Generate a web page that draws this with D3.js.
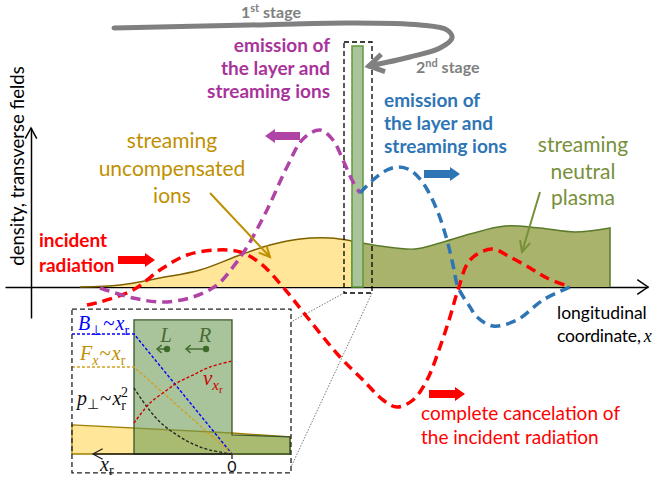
<!DOCTYPE html>
<html><head><meta charset="utf-8">
<script src="https://cdn.jsdelivr.net/npm/d3@7"></script>
<style>body{margin:0;background:#fff}svg{display:block;font-family:Lato,'Open Sans',sans-serif}</style>
</head><body><svg id="c" width="655" height="482"></svg>
<script>
// ---------- data (chart units: x along the axis, y above baseline) ----------
const ionsDensity   = [[49,0],[89,2],[129,9],[169,17],[209,32],[239,42],[269,48],[299,49],[321,46]];
const plasmaDensity = [[321,46],[349,41],[384,38],[409,44],[439,53],[474,61],[509,59],[544,55],[579,59]];
const layerBarX = [321, 332];
const layerBarH = [241];
const layerBoxX = [313, 341];
const layerBoxY = [-6, 245];
const incidentField = [[56,-18],[69,-15],[102,-3],[129,17],[156,32],[186,37],[209,35],[229,24],[252,0],[276,-30],[309,-70],[332,-93],[352,-113],[366,-120],[382,-113],[396,-93],[409,-60],[419,-30],[427,-3],[439,27],[461,38],[479,30],[499,19],[516,9],[539,0]];
const backEmission  = [[69,-1],[102,-11],[132,-15],[162,-10],[186,2],[202,20],[216,40],[236,77],[256,120],[272,148],[289,157],[302,147],[312,127],[321,107],[329,94]];
const fwdEmission   = [[329,94],[342,107],[356,117],[367,120],[379,117],[392,104],[406,77],[416,47],[422,22],[427,0],[439,-20],[446,-30],[462,-39],[486,-33],[512,-13],[539,0]];
const stagePath     = [[83,259],[219,262],[319,264],[389,262],[416,257],[421,249],[409,239],[379,230],[338,221]];
// block arrows: [x from, x to, y, colour]
const blockArrows = [[269,234,151,"#b043a6"],[393,429,113,"#2e75b6"],[87,124,27,"#ff0000"],[398,434,-107,"#ff0000"]];
const lineArrows  = [[179,94,239,30,"#bf9000"],[509,95,491,35,"#77903a"]];
// inset (x_r, value)
const insetIons   = [[1.633,0.242],[0,0.175],[-0.592,0.142]];
const insetLayer  = [[1,0],[1,1.117],[0,1.117],[0,0.16],[-0.592,0.142],[-0.592,0]];
const insetB = [[1.633,1],[1,1],[0,0]];
const insetF = [[1.633,0.725],[1,0.725],[0,0]];
const insetP = [[1,0.55],[0.867,0.392],[0.735,0.267],[0.561,0.158],[0.398,0.083],[0.224,0.033],[0,0]];
const insetV = [[1,0.258],[0.837,0.425],[0.663,0.533],[0.561,0.592],[0.398,0.658],[0.224,0.725],[0,0.775]];
const insetBox = [1.633,-0.602,1.208,-0.158];

// ---------- scales ----------
const svg = d3.select("#c");
const X = d3.scaleLinear().domain([0,620]).range([31,651]);
const Y = d3.scaleLinear().domain([0,250]).range([287,37]);
const IX = d3.scaleLinear().domain([0,1]).range([232,134]);
const IY = d3.scaleLinear().domain([0,1]).range([454,334]);

const line = d3.line().x(d=>X(d[0])).y(d=>Y(d[1])).curve(d3.curveCatmullRom.alpha(0.5));
const area = d3.area().x(d=>X(d[0])).y0(Y(0)).y1(d=>Y(d[1])).curve(d3.curveCatmullRom.alpha(0.5));
const iline = d3.line().x(d=>IX(d[0])).y(d=>IY(d[1]));
const icurve = d3.line().x(d=>IX(d[0])).y(d=>IY(d[1])).curve(d3.curveCatmullRom.alpha(0.5));

// ---------- axes ----------
const xa = d3.scaleLinear().domain([-26,617]).range([5,648]);
svg.append("g").attr("transform",`translate(0,${Y(0)})`)
  .call(d3.axisBottom(xa).tickValues([]).tickSizeOuter(0))
  .call(g=>g.select(".domain").attr("stroke","#000").attr("stroke-width",1.5));
const ya = d3.scaleLinear().domain([-31,159]).range([318,128]);
svg.append("g").attr("transform",`translate(${X(0)},0)`)
  .call(d3.axisLeft(ya).tickValues([]).tickSizeOuter(0))
  .call(g=>g.select(".domain").attr("stroke","#000").attr("stroke-width",1.5));
function chevron(tx,ty,ang,len,spread,color,w,parent){
  const p=[[tx+len*Math.cos(ang+spread),ty+len*Math.sin(ang+spread)],[tx,ty],[tx+len*Math.cos(ang-spread),ty+len*Math.sin(ang-spread)]];
  (parent||svg).append("path").attr("d",d3.line()(p)).attr("fill","none").attr("stroke",color).attr("stroke-width",w).attr("stroke-linejoin","miter");
}
chevron(xa(617),Y(0),Math.PI,13,0.6,"#000",1.5);
chevron(X(0),ya(159),Math.PI/2,12,0.5,"#000",1.5);

// ---------- densities ----------
svg.append("path").datum(ionsDensity).attr("d",area).attr("fill","#ffe699");
svg.append("path").datum(ionsDensity).attr("d",line).attr("fill","none").attr("stroke","#7f6000").attr("stroke-width",1.5);
svg.append("path").datum(plasmaDensity).attr("d",area).attr("fill","#a9b36b");
svg.append("path").datum(plasmaDensity).attr("d",d=>line(d)+`L${X(d[d.length-1][0])},${Y(0)}`).attr("fill","none").attr("stroke","#5a7a2a").attr("stroke-width",1.5);
svg.append("line").attr("x1",X(plasmaDensity[0][0])).attr("x2",X(plasmaDensity[0][0])).attr("y1",Y(0)).attr("y2",Y(plasmaDensity[0][1])).attr("stroke","#5a7a2a").attr("stroke-width",1.5);
svg.append("rect").attr("x",X(layerBarX[0])).attr("y",Y(layerBarH[0])).attr("width",X(layerBarX[1])-X(layerBarX[0])).attr("height",Y(0)-Y(layerBarH[0]))
  .attr("fill","#a9c49a").attr("stroke","#5f9a3c").attr("stroke-width",1.5);
svg.append("rect").attr("x",X(layerBoxX[0])).attr("y",Y(layerBoxY[1])).attr("width",X(layerBoxX[1])-X(layerBoxX[0])).attr("height",Y(layerBoxY[0])-Y(layerBoxY[1]))
  .attr("fill","none").attr("stroke","#000").attr("stroke-width",1.3).attr("stroke-dasharray","5,3");

// dotted zoom lines
svg.append("line").attr("x1",X(layerBoxX[0])).attr("y1",Y(layerBoxY[0])).attr("x2",IX(insetBox[1])).attr("y2",322).attr("stroke","#555").attr("stroke-width",0.8).attr("stroke-dasharray","1.5,1.5");
svg.append("line").attr("x1",X(layerBoxX[1])).attr("y1",Y(layerBoxY[0])).attr("x2",IX(insetBox[1])).attr("y2",467).attr("stroke","#555").attr("stroke-width",0.8).attr("stroke-dasharray","1.5,1.5");

// ---------- fields ----------
const dash = "10,6";
svg.append("path").datum(incidentField).attr("d",line).attr("fill","none").attr("stroke","#ff0000").attr("stroke-width",3.5).attr("stroke-dasharray",dash);
svg.append("path").datum(backEmission).attr("d",line).attr("fill","none").attr("stroke","#b043a6").attr("stroke-width",3.5).attr("stroke-dasharray",dash);
svg.append("path").datum(fwdEmission).attr("d",line).attr("fill","none").attr("stroke","#2e75b6").attr("stroke-width",3.5).attr("stroke-dasharray",dash);

// block arrows
blockArrows.forEach(([a,b,y,c])=>{
  const x1=X(a), x2=X(b), yy=Y(y), s=Math.sign(x2-x1), hl=10, sh=4, hh=7;
  const p=[[x1,yy-sh],[x2-s*hl,yy-sh],[x2-s*hl,yy-hh],[x2,yy],[x2-s*hl,yy+hh],[x2-s*hl,yy+sh],[x1,yy+sh]];
  svg.append("path").attr("d",d3.line()(p)+"Z").attr("fill",c);
});
// line arrows
lineArrows.forEach(([a,b,c,d,col])=>{
  const x1=X(a),y1=Y(b),x2=X(c),y2=Y(d);
  svg.append("line").attr("x1",x1).attr("y1",y1).attr("x2",x2).attr("y2",y2).attr("stroke",col).attr("stroke-width",2);
  const ang=Math.atan2(y1-y2,x1-x2);
  chevron(x2,y2,ang,12,0.45,col,2);
});
// stage arrow
svg.append("path").datum(stagePath).attr("d",line).attr("fill","none").attr("stroke","#808080").attr("stroke-width",5).attr("stroke-linecap","round");
{
  const n=stagePath.length, e=stagePath[n-1], q=stagePath[n-2];
  const tx=X(e[0]), ty=Y(e[1]);
  const ang=Math.atan2(Y(q[1])-ty, X(q[0])-tx);
  chevron(tx,ty,ang,17,0.55,"#808080",5);
}

// ---------- texts ----------
function lines(arr,x,ys,anchor,color,size,weight){
  arr.forEach((t,i)=>svg.append("text").attr("x",x).attr("y",ys[i]).attr("text-anchor",anchor).attr("fill",color)
    .attr("font-size",size).attr("font-weight",weight).text(t));
}
lines(["emission of","the layer and","streaming ions"],330,[52,75,98],"end","#a8349b",19,700);
lines(["emission of","the layer and","streaming ions"],384,[107,130,153],"start","#2e75b6",19,700);
lines(["streaming","uncompensated","ions"],172,[148,176,203],"middle","#bf9000",21,400);
lines(["streaming","neutral","plasma"],583,[152,179,205],"middle","#77903a",21,400);
lines(["incident","radiation"],39,[247,272],"start","#ff0000",19,700);
lines(["complete cancelation of","the incident radiation"],421,[420,444],"start","#ff0000",19,400);
lines(["longitudinal"],557,[319],"start","#000",17.5,400);
{
  const t=svg.append("text").attr("x",557).attr("y",342).attr("font-size",17.5).attr("letter-spacing",-0.2);
  t.append("tspan").text("coordinate,");
  t.append("tspan").attr("dx",3).attr("font-family","'Liberation Serif',serif").attr("font-style","italic").attr("font-size",18).text("x");
}
svg.append("text").attr("transform","translate(24,166) rotate(-90)").attr("text-anchor","middle").attr("font-size",18.5).text("density, transverse fields");
function stage(x,y,num,sup,anchor){
  const t=svg.append("text").attr("x",x).attr("y",y).attr("fill","#808080").attr("font-weight",700).attr("font-size",16).attr("text-anchor",anchor);
  t.append("tspan").text(num);
  t.append("tspan").attr("font-size",11).attr("dy",-6).text(sup);
  t.append("tspan").attr("dy",6).text(" stage");
}
stage(271,18,"1","st","middle");
stage(416,73,"2","nd","start");

// ---------- inset ----------
const ig = svg.append("g");
const ionsPoly = insetIons.concat([[insetIons[insetIons.length-1][0],0],[insetIons[0][0],0]]);
ig.append("path").attr("d",iline(ionsPoly)+"Z").attr("fill","#ffe699").attr("stroke","#a08000").attr("stroke-width",1.3);
ig.append("path").attr("d",iline(insetLayer)+"Z").attr("fill","rgb(112,157,87)").attr("fill-opacity",0.6).attr("stroke","#38562a").attr("stroke-width",1.3);
// inset axis
ig.append("line").attr("x1",IX(0)).attr("x2",93).attr("y1",IY(0)).attr("y2",IY(0)).attr("stroke","#222").attr("stroke-width",1.3);
chevron(93,IY(0),0,11,0.5,"#222",1.3,ig);
ig.append("line").attr("x1",IX(0)).attr("x2",IX(0)).attr("y1",IY(0)).attr("y2",IY(0)+5).attr("stroke","#222").attr("stroke-width",1.3);
const sd="3,2";
ig.append("path").attr("d",iline(insetB)).attr("fill","none").attr("stroke","#0000ff").attr("stroke-width",1.4).attr("stroke-dasharray",sd);
ig.append("path").attr("d",iline(insetF)).attr("fill","none").attr("stroke","#d4a020").attr("stroke-width",1.4).attr("stroke-dasharray",sd);
ig.append("path").attr("d",icurve(insetP)).attr("fill","none").attr("stroke","#222").attr("stroke-width",1.3).attr("stroke-dasharray",sd);
ig.append("path").attr("d",icurve(insetV)).attr("fill","none").attr("stroke","#cc0000").attr("stroke-width",1.4).attr("stroke-dasharray",sd);
ig.append("rect").attr("x",IX(insetBox[0])).attr("y",IY(insetBox[2])).attr("width",IX(insetBox[1])-IX(insetBox[0])).attr("height",IY(insetBox[3])-IY(insetBox[2]))
  .attr("fill","none").attr("stroke","#222").attr("stroke-width",1.3).attr("stroke-dasharray","5,3");
// L / R
[[167,"L",157],[206,"R",186]].forEach(([x,lab,x2])=>{
  ig.append("circle").attr("cx",x).attr("cy",349).attr("r",3.2).attr("fill","#3d6b2a");
  ig.append("line").attr("x1",x).attr("x2",x2+1).attr("y1",349).attr("y2",349).attr("stroke","#3d6b2a").attr("stroke-width",1.4);
  chevron(x2,349,0,6,0.7,"#3d6b2a",1.4,ig);
  ig.append("text").attr("x",x-1).attr("y",342).attr("text-anchor","middle").attr("font-family","'Liberation Serif',serif").attr("font-style","italic").attr("font-size",21).attr("fill","#4a6b38").text(lab);
});
const MF="'Liberation Serif',serif";
// parts: [text, italic, font-size, dx, dy]
function mlabel(x,y,color,parts){
  const t=ig.append("text").attr("x",x).attr("y",y).attr("fill",color).attr("font-family",MF).attr("font-size",20);
  parts.forEach(([s,it,fs,dx,dy])=>{const e=t.append("tspan").text(s).attr("font-size",fs);
    if(it)e.attr("font-style","italic");
    if(dx)e.attr("dx",dx);
    if(dy)e.attr("dy",dy);});
}
mlabel(78,330,"#0000ff",[["B",1,20],["⊥",0,14,0,5],["~",0,21,1,-5],["x",1,20,1],["r",0,14,0,5]]);
mlabel(80,360,"#bf9000",[["F",1,20],["x",1,14,0,5],["~",0,21,1,-5],["x",1,20,1],["r",0,14,0,5]]);
mlabel(77,405,"#111",[["p",1,20],["⊥",0,14,0,4],["~",0,21,1,-4],["x",1,20,1],["r",0,14,0,5],["2",0,14,-5,-13]]);
mlabel(203,385,"#cc0000",[["v",1,21],["x",1,15,0,5],["r",0,11,0,3]]);
ig.append("text").attr("x",100).attr("y",471).attr("font-family",MF).attr("font-style","italic").attr("font-size",20).attr("fill","#111").text("x")
  .append("tspan").attr("font-style","normal").attr("font-size",14).attr("dy",4).text("r");
ig.append("text").attr("x",IX(0)).attr("y",472).attr("text-anchor","middle").attr("font-size",16).attr("fill","#111").text("0");
</script></body></html>
